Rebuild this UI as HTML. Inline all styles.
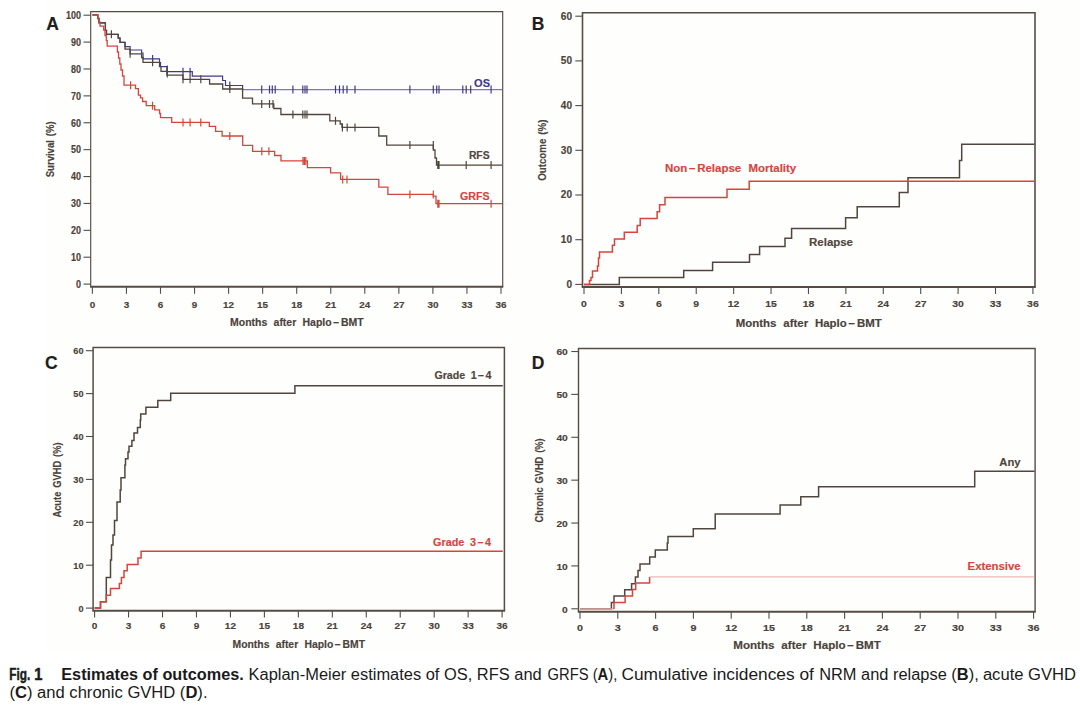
<!DOCTYPE html>
<html><head><meta charset="utf-8"><style>
html,body{margin:0;padding:0;background:#fff;width:1080px;height:705px;overflow:hidden}
svg{display:block}
text{font-family:"Liberation Sans", sans-serif}
</style></head><body>
<svg width="1080" height="705" viewBox="0 0 1080 705" font-family="Liberation Sans, sans-serif">
<rect x="0" y="0" width="1080" height="705" fill="#ffffff"/>
<rect x="44" y="0" width="1036" height="652" fill="#fefefd"/>
<path d="M90.7 286.8 V11.6 H502.7 V286.8" fill="none" stroke="#564c44" stroke-width="1.15"/>
<path d="M90.125 286.8 H503.275" stroke="#564c44" stroke-width="1.9"/>
<path d="M83.5 284.10 H90.7" stroke="#564c44" stroke-width="1.1"/>
<text x="81.0" y="287.8" font-size="10" text-anchor="end" fill="#4a423b" stroke="#4a423b" stroke-width="0.15" font-weight="bold" textLength="5.0" lengthAdjust="spacingAndGlyphs" >0</text>
<path d="M83.5 257.21 H90.7" stroke="#564c44" stroke-width="1.1"/>
<text x="81.0" y="260.9" font-size="10" text-anchor="end" fill="#4a423b" stroke="#4a423b" stroke-width="0.15" font-weight="bold" textLength="10.0" lengthAdjust="spacingAndGlyphs" >10</text>
<path d="M83.5 230.32 H90.7" stroke="#564c44" stroke-width="1.1"/>
<text x="81.0" y="234.0" font-size="10" text-anchor="end" fill="#4a423b" stroke="#4a423b" stroke-width="0.15" font-weight="bold" textLength="10.0" lengthAdjust="spacingAndGlyphs" >20</text>
<path d="M83.5 203.43 H90.7" stroke="#564c44" stroke-width="1.1"/>
<text x="81.0" y="207.1" font-size="10" text-anchor="end" fill="#4a423b" stroke="#4a423b" stroke-width="0.15" font-weight="bold" textLength="10.0" lengthAdjust="spacingAndGlyphs" >30</text>
<path d="M83.5 176.54 H90.7" stroke="#564c44" stroke-width="1.1"/>
<text x="81.0" y="180.2" font-size="10" text-anchor="end" fill="#4a423b" stroke="#4a423b" stroke-width="0.15" font-weight="bold" textLength="10.0" lengthAdjust="spacingAndGlyphs" >40</text>
<path d="M83.5 149.65 H90.7" stroke="#564c44" stroke-width="1.1"/>
<text x="81.0" y="153.4" font-size="10" text-anchor="end" fill="#4a423b" stroke="#4a423b" stroke-width="0.15" font-weight="bold" textLength="10.0" lengthAdjust="spacingAndGlyphs" >50</text>
<path d="M83.5 122.76 H90.7" stroke="#564c44" stroke-width="1.1"/>
<text x="81.0" y="126.5" font-size="10" text-anchor="end" fill="#4a423b" stroke="#4a423b" stroke-width="0.15" font-weight="bold" textLength="10.0" lengthAdjust="spacingAndGlyphs" >60</text>
<path d="M83.5 95.87 H90.7" stroke="#564c44" stroke-width="1.1"/>
<text x="81.0" y="99.6" font-size="10" text-anchor="end" fill="#4a423b" stroke="#4a423b" stroke-width="0.15" font-weight="bold" textLength="10.0" lengthAdjust="spacingAndGlyphs" >70</text>
<path d="M83.5 68.98 H90.7" stroke="#564c44" stroke-width="1.1"/>
<text x="81.0" y="72.7" font-size="10" text-anchor="end" fill="#4a423b" stroke="#4a423b" stroke-width="0.15" font-weight="bold" textLength="10.0" lengthAdjust="spacingAndGlyphs" >80</text>
<path d="M83.5 42.09 H90.7" stroke="#564c44" stroke-width="1.1"/>
<text x="81.0" y="45.8" font-size="10" text-anchor="end" fill="#4a423b" stroke="#4a423b" stroke-width="0.15" font-weight="bold" textLength="10.0" lengthAdjust="spacingAndGlyphs" >90</text>
<path d="M83.5 15.20 H90.7" stroke="#564c44" stroke-width="1.1"/>
<text x="81.0" y="18.9" font-size="10" text-anchor="end" fill="#4a423b" stroke="#4a423b" stroke-width="0.15" font-weight="bold" textLength="15.0" lengthAdjust="spacingAndGlyphs" >100</text>
<path d="M92.40 286.8 V293.8" stroke="#564c44" stroke-width="1.1"/>
<text x="92.4" y="307.6" font-size="9" text-anchor="middle" fill="#4a423b" stroke="#4a423b" stroke-width="0.15" font-weight="bold" textLength="5.5" lengthAdjust="spacingAndGlyphs" >0</text>
<path d="M126.45 286.8 V293.8" stroke="#564c44" stroke-width="1.1"/>
<text x="126.5" y="307.6" font-size="9" text-anchor="middle" fill="#4a423b" stroke="#4a423b" stroke-width="0.15" font-weight="bold" textLength="5.5" lengthAdjust="spacingAndGlyphs" >3</text>
<path d="M160.50 286.8 V293.8" stroke="#564c44" stroke-width="1.1"/>
<text x="160.5" y="307.6" font-size="9" text-anchor="middle" fill="#4a423b" stroke="#4a423b" stroke-width="0.15" font-weight="bold" textLength="5.5" lengthAdjust="spacingAndGlyphs" >6</text>
<path d="M194.55 286.8 V293.8" stroke="#564c44" stroke-width="1.1"/>
<text x="194.6" y="307.6" font-size="9" text-anchor="middle" fill="#4a423b" stroke="#4a423b" stroke-width="0.15" font-weight="bold" textLength="5.5" lengthAdjust="spacingAndGlyphs" >9</text>
<path d="M228.60 286.8 V293.8" stroke="#564c44" stroke-width="1.1"/>
<text x="228.6" y="307.6" font-size="9" text-anchor="middle" fill="#4a423b" stroke="#4a423b" stroke-width="0.15" font-weight="bold" textLength="11.0" lengthAdjust="spacingAndGlyphs" >12</text>
<path d="M262.65 286.8 V293.8" stroke="#564c44" stroke-width="1.1"/>
<text x="262.6" y="307.6" font-size="9" text-anchor="middle" fill="#4a423b" stroke="#4a423b" stroke-width="0.15" font-weight="bold" textLength="11.0" lengthAdjust="spacingAndGlyphs" >15</text>
<path d="M296.70 286.8 V293.8" stroke="#564c44" stroke-width="1.1"/>
<text x="296.7" y="307.6" font-size="9" text-anchor="middle" fill="#4a423b" stroke="#4a423b" stroke-width="0.15" font-weight="bold" textLength="11.0" lengthAdjust="spacingAndGlyphs" >18</text>
<path d="M330.75 286.8 V293.8" stroke="#564c44" stroke-width="1.1"/>
<text x="330.8" y="307.6" font-size="9" text-anchor="middle" fill="#4a423b" stroke="#4a423b" stroke-width="0.15" font-weight="bold" textLength="11.0" lengthAdjust="spacingAndGlyphs" >21</text>
<path d="M364.80 286.8 V293.8" stroke="#564c44" stroke-width="1.1"/>
<text x="364.8" y="307.6" font-size="9" text-anchor="middle" fill="#4a423b" stroke="#4a423b" stroke-width="0.15" font-weight="bold" textLength="11.0" lengthAdjust="spacingAndGlyphs" >24</text>
<path d="M398.85 286.8 V293.8" stroke="#564c44" stroke-width="1.1"/>
<text x="398.9" y="307.6" font-size="9" text-anchor="middle" fill="#4a423b" stroke="#4a423b" stroke-width="0.15" font-weight="bold" textLength="11.0" lengthAdjust="spacingAndGlyphs" >27</text>
<path d="M432.90 286.8 V293.8" stroke="#564c44" stroke-width="1.1"/>
<text x="432.9" y="307.6" font-size="9" text-anchor="middle" fill="#4a423b" stroke="#4a423b" stroke-width="0.15" font-weight="bold" textLength="11.0" lengthAdjust="spacingAndGlyphs" >30</text>
<path d="M466.95 286.8 V293.8" stroke="#564c44" stroke-width="1.1"/>
<text x="467.0" y="307.6" font-size="9" text-anchor="middle" fill="#4a423b" stroke="#4a423b" stroke-width="0.15" font-weight="bold" textLength="11.0" lengthAdjust="spacingAndGlyphs" >33</text>
<path d="M501.00 286.8 V293.8" stroke="#564c44" stroke-width="1.1"/>
<text x="501.0" y="307.6" font-size="9" text-anchor="middle" fill="#4a423b" stroke="#4a423b" stroke-width="0.15" font-weight="bold" textLength="11.0" lengthAdjust="spacingAndGlyphs" >36</text>
<text x="52.5" y="29.5" font-size="17.5" text-anchor="middle" fill="#1e1e1e" stroke="#1e1e1e" stroke-width="0.15" font-weight="bold" >A</text>
<text x="0.0" y="0.0" font-size="11" text-anchor="middle" fill="#4a423b" stroke="#4a423b" stroke-width="0.15" font-weight="bold" textLength="56" lengthAdjust="spacingAndGlyphs" word-spacing="1.5" transform="translate(53.9 149.3) rotate(-90)">Survival (%)</text>
<text x="230.0" y="325.7" font-size="10" text-anchor="start" fill="#4a423b" stroke="#4a423b" stroke-width="0.15" font-weight="bold" textLength="133.7" lengthAdjust="spacingAndGlyphs" word-spacing="3.2" >Months after Haplo<tspan dx="1.5">−</tspan><tspan dx="1.5">BMT</tspan></text>
<path d="M92.4 14.9 H97.8 V18.5 H99 V22.8 H105.4 V30.4 H106.5 V34.3 H118.2 V38.1 H120 V42.3 H125 V46.6 H130.1 V50 H141.6 V53 H143 V58.9 H159.5 V62.5 H160.5 V66.7 H166.9 V71.7 H192.3 V76.1 H222.6 V80.5 H225.5 V85.5 H242.6 V89.6 H243" fill="none" stroke="#3f3a8a" stroke-width="1.2" stroke-linejoin="miter" stroke-linecap="butt" />
<path d="M242.6 89.7 H502.2" fill="none" stroke="#7f78b3" stroke-width="1.3" stroke-linejoin="miter" stroke-linecap="butt" />
<path d="M92.4 14.9 H97.8 V18.5 H99 V22.8 H105.4 V30.4 H106.5 V34.3 H118.2 V38.1 H120 V42.3 H125 V49.1 H130.1 V53.8 H141.6 V57.5 H143 V62.3 H159.5 V66.7 H161 V71.3 H166.9 V75.2 H183 V79.3 H209.6 V84 H222.7 V89 H242.6 V98.2 H252.5 V103.9 H273.8 V108.5 H280.9 V114.5 H329.8 V120.8 H340.2 V124 H342 V127.4 H378.8 V136 H386.7 V145.1 H433.3 V150 H435 V158 H436.5 V165.1 H502" fill="none" stroke="#51463e" stroke-width="1.3" stroke-linejoin="miter" stroke-linecap="butt" />
<path d="M92.4 14.9 H97.8 V18.5 H99.2 V22 H100 V26.2 H103.7 V30 H105 V35.5 H106.3 V40.6 H107.2 V46.2 H117.4 V52 H118.5 V58 H119.8 V64 H121 V70 H122.5 V76 H124 V85.2 H135.5 V88.7 H138.4 V95.1 H140.5 V97.9 H142.6 V101.5 H146.2 V105.7 H154.7 V109.9 H159.6 V113.5 H160.5 V117.7 H171.7 V122.4 H209.3 V126.4 H215.6 V131.4 H222.1 V136 H242.7 V145.3 H252.6 V151.3 H274.6 V155.5 H281 V160.9 H307.4 V167.6 H330.6 V172.8 H340.6 V179.4 H378.8 V187.1 H387.9 V194.4 H433.3 V196.2 H436 V203.7 H502" fill="none" stroke="#d4463d" stroke-width="1.3" stroke-linejoin="miter" stroke-linecap="butt" />
<path d="M152.6 54.9 V62.9" stroke="#3f3a8a" stroke-width="1.2"/>
<path d="M167.3 65.5 V73.5" stroke="#3f3a8a" stroke-width="1.2"/>
<path d="M167.3 69.5 V77.5" stroke="#51463e" stroke-width="1.2"/>
<path d="M183.0 67.7 V75.7 M190.1 67.7 V75.7" stroke="#3f3a8a" stroke-width="1.2"/>
<path d="M229.8 81.5 V89.5" stroke="#3f3a8a" stroke-width="1.2"/>
<path d="M261.7 85.6 V93.6 M269.5 85.6 V93.6 M272.3 85.6 V93.6 M275.2 85.6 V93.6 M292.9 85.6 V93.6 M302.8 85.6 V93.6 M305.0 85.6 V93.6 M307.0 85.6 V93.6 M335.5 85.6 V93.6 M339.5 85.6 V93.6 M343.2 85.6 V93.6 M347.0 85.6 V93.6 M355.0 85.6 V93.6 M409.9 85.6 V93.6 M433.3 85.6 V93.6 M436.7 85.6 V93.6 M439.0 85.6 V93.6 M462.8 85.6 V93.6 M466.2 85.6 V93.6 M470.7 85.6 V93.6 M491.1 85.6 V93.6" stroke="#3f3a8a" stroke-width="1.2"/>
<path d="M111.4 30.3 V38.3" stroke="#51463e" stroke-width="1.2"/>
<path d="M130.1 49.8 V57.8" stroke="#51463e" stroke-width="1.2"/>
<path d="M152.6 58.3 V66.3" stroke="#51463e" stroke-width="1.2"/>
<path d="M183.0 75.3 V83.3 M190.1 75.3 V83.3 M200.8 75.3 V83.3" stroke="#51463e" stroke-width="1.2"/>
<path d="M229.8 85.0 V93.0" stroke="#51463e" stroke-width="1.2"/>
<path d="M261.7 99.9 V107.9 M269.5 99.9 V107.9 M273.0 99.9 V107.9" stroke="#51463e" stroke-width="1.2"/>
<path d="M292.9 110.5 V118.5 M302.8 110.5 V118.5 M305.0 110.5 V118.5 M307.0 110.5 V118.5" stroke="#51463e" stroke-width="1.2"/>
<path d="M335.5 116.8 V124.8" stroke="#51463e" stroke-width="1.2"/>
<path d="M342.4 123.4 V131.4 M347.2 123.4 V131.4 M355.0 123.4 V131.4" stroke="#51463e" stroke-width="1.2"/>
<path d="M409.9 141.1 V149.1 M433.3 141.1 V149.1" stroke="#51463e" stroke-width="1.2"/>
<path d="M437.8 161.1 V169.1 M439.0 161.1 V169.1" stroke="#51463e" stroke-width="1.2"/>
<path d="M466.2 161.1 V169.1 M491.1 161.1 V169.1" stroke="#51463e" stroke-width="1.2"/>
<path d="M130.6 81.2 V89.2" stroke="#d4463d" stroke-width="1.2"/>
<path d="M152.5 101.7 V109.7" stroke="#d4463d" stroke-width="1.2"/>
<path d="M183.0 118.4 V126.4 M190.1 118.4 V126.4 M200.8 118.4 V126.4" stroke="#d4463d" stroke-width="1.2"/>
<path d="M229.8 132.0 V140.0" stroke="#d4463d" stroke-width="1.2"/>
<path d="M261.8 147.3 V155.3 M268.9 147.3 V155.3" stroke="#d4463d" stroke-width="1.2"/>
<path d="M303.0 156.9 V164.9 M304.4 156.9 V164.9 M305.8 156.9 V164.9" stroke="#d4463d" stroke-width="1.2"/>
<path d="M342.7 175.4 V183.4 M347.0 175.4 V183.4" stroke="#d4463d" stroke-width="1.2"/>
<path d="M409.9 190.4 V198.4 M433.3 190.4 V198.4" stroke="#d4463d" stroke-width="1.2"/>
<path d="M437.8 199.7 V207.7 M439.0 199.7 V207.7 M491.1 199.7 V207.7" stroke="#d4463d" stroke-width="1.2"/>
<text x="474.1" y="87.2" font-size="10" text-anchor="start" fill="#3f3a8a" stroke="#3f3a8a" stroke-width="0.15" font-weight="bold" textLength="15.9" lengthAdjust="spacingAndGlyphs" >OS</text>
<text x="468.9" y="159.2" font-size="10" text-anchor="start" fill="#51463e" stroke="#51463e" stroke-width="0.15" font-weight="bold" textLength="20.7" lengthAdjust="spacingAndGlyphs" >RFS</text>
<text x="460.0" y="200.0" font-size="10" text-anchor="start" fill="#d4463d" stroke="#d4463d" stroke-width="0.15" font-weight="bold" textLength="29.6" lengthAdjust="spacingAndGlyphs" >GRFS</text>
<path d="M582.5 287 V12.8 H1035 V287" fill="none" stroke="#564c44" stroke-width="1.6"/>
<path d="M581.7 287 H1035.8" stroke="#564c44" stroke-width="2.0"/>
<path d="M575.3 284.40 H582.5" stroke="#564c44" stroke-width="1.1"/>
<text x="572.0" y="287.8" font-size="10" text-anchor="end" fill="#4a423b" stroke="#4a423b" stroke-width="0.15" font-weight="bold" textLength="5.6" lengthAdjust="spacingAndGlyphs" >0</text>
<path d="M575.3 239.70 H582.5" stroke="#564c44" stroke-width="1.1"/>
<text x="572.0" y="243.1" font-size="10" text-anchor="end" fill="#4a423b" stroke="#4a423b" stroke-width="0.15" font-weight="bold" textLength="11.2" lengthAdjust="spacingAndGlyphs" >10</text>
<path d="M575.3 195.00 H582.5" stroke="#564c44" stroke-width="1.1"/>
<text x="572.0" y="198.4" font-size="10" text-anchor="end" fill="#4a423b" stroke="#4a423b" stroke-width="0.15" font-weight="bold" textLength="11.2" lengthAdjust="spacingAndGlyphs" >20</text>
<path d="M575.3 150.30 H582.5" stroke="#564c44" stroke-width="1.1"/>
<text x="572.0" y="153.7" font-size="10" text-anchor="end" fill="#4a423b" stroke="#4a423b" stroke-width="0.15" font-weight="bold" textLength="11.2" lengthAdjust="spacingAndGlyphs" >30</text>
<path d="M575.3 105.60 H582.5" stroke="#564c44" stroke-width="1.1"/>
<text x="572.0" y="109.0" font-size="10" text-anchor="end" fill="#4a423b" stroke="#4a423b" stroke-width="0.15" font-weight="bold" textLength="11.2" lengthAdjust="spacingAndGlyphs" >40</text>
<path d="M575.3 60.90 H582.5" stroke="#564c44" stroke-width="1.1"/>
<text x="572.0" y="64.3" font-size="10" text-anchor="end" fill="#4a423b" stroke="#4a423b" stroke-width="0.15" font-weight="bold" textLength="11.2" lengthAdjust="spacingAndGlyphs" >50</text>
<path d="M575.3 16.20 H582.5" stroke="#564c44" stroke-width="1.1"/>
<text x="572.0" y="19.6" font-size="10" text-anchor="end" fill="#4a423b" stroke="#4a423b" stroke-width="0.15" font-weight="bold" textLength="11.2" lengthAdjust="spacingAndGlyphs" >60</text>
<path d="M584.00 287 V294" stroke="#564c44" stroke-width="1.1"/>
<text x="584.0" y="307.2" font-size="9" text-anchor="middle" fill="#4a423b" stroke="#4a423b" stroke-width="0.15" font-weight="bold" textLength="5.8" lengthAdjust="spacingAndGlyphs" >0</text>
<path d="M621.41 287 V294" stroke="#564c44" stroke-width="1.1"/>
<text x="621.4" y="307.2" font-size="9" text-anchor="middle" fill="#4a423b" stroke="#4a423b" stroke-width="0.15" font-weight="bold" textLength="5.8" lengthAdjust="spacingAndGlyphs" >3</text>
<path d="M658.82 287 V294" stroke="#564c44" stroke-width="1.1"/>
<text x="658.8" y="307.2" font-size="9" text-anchor="middle" fill="#4a423b" stroke="#4a423b" stroke-width="0.15" font-weight="bold" textLength="5.8" lengthAdjust="spacingAndGlyphs" >6</text>
<path d="M696.23 287 V294" stroke="#564c44" stroke-width="1.1"/>
<text x="696.2" y="307.2" font-size="9" text-anchor="middle" fill="#4a423b" stroke="#4a423b" stroke-width="0.15" font-weight="bold" textLength="5.8" lengthAdjust="spacingAndGlyphs" >9</text>
<path d="M733.64 287 V294" stroke="#564c44" stroke-width="1.1"/>
<text x="733.6" y="307.2" font-size="9" text-anchor="middle" fill="#4a423b" stroke="#4a423b" stroke-width="0.15" font-weight="bold" textLength="11.6" lengthAdjust="spacingAndGlyphs" >12</text>
<path d="M771.05 287 V294" stroke="#564c44" stroke-width="1.1"/>
<text x="771.0" y="307.2" font-size="9" text-anchor="middle" fill="#4a423b" stroke="#4a423b" stroke-width="0.15" font-weight="bold" textLength="11.6" lengthAdjust="spacingAndGlyphs" >15</text>
<path d="M808.46 287 V294" stroke="#564c44" stroke-width="1.1"/>
<text x="808.5" y="307.2" font-size="9" text-anchor="middle" fill="#4a423b" stroke="#4a423b" stroke-width="0.15" font-weight="bold" textLength="11.6" lengthAdjust="spacingAndGlyphs" >18</text>
<path d="M845.87 287 V294" stroke="#564c44" stroke-width="1.1"/>
<text x="845.9" y="307.2" font-size="9" text-anchor="middle" fill="#4a423b" stroke="#4a423b" stroke-width="0.15" font-weight="bold" textLength="11.6" lengthAdjust="spacingAndGlyphs" >21</text>
<path d="M883.28 287 V294" stroke="#564c44" stroke-width="1.1"/>
<text x="883.3" y="307.2" font-size="9" text-anchor="middle" fill="#4a423b" stroke="#4a423b" stroke-width="0.15" font-weight="bold" textLength="11.6" lengthAdjust="spacingAndGlyphs" >24</text>
<path d="M920.69 287 V294" stroke="#564c44" stroke-width="1.1"/>
<text x="920.7" y="307.2" font-size="9" text-anchor="middle" fill="#4a423b" stroke="#4a423b" stroke-width="0.15" font-weight="bold" textLength="11.6" lengthAdjust="spacingAndGlyphs" >27</text>
<path d="M958.10 287 V294" stroke="#564c44" stroke-width="1.1"/>
<text x="958.1" y="307.2" font-size="9" text-anchor="middle" fill="#4a423b" stroke="#4a423b" stroke-width="0.15" font-weight="bold" textLength="11.6" lengthAdjust="spacingAndGlyphs" >30</text>
<path d="M995.51 287 V294" stroke="#564c44" stroke-width="1.1"/>
<text x="995.5" y="307.2" font-size="9" text-anchor="middle" fill="#4a423b" stroke="#4a423b" stroke-width="0.15" font-weight="bold" textLength="11.6" lengthAdjust="spacingAndGlyphs" >33</text>
<path d="M1032.92 287 V294" stroke="#564c44" stroke-width="1.1"/>
<text x="1032.9" y="307.2" font-size="9" text-anchor="middle" fill="#4a423b" stroke="#4a423b" stroke-width="0.15" font-weight="bold" textLength="11.6" lengthAdjust="spacingAndGlyphs" >36</text>
<text x="538.0" y="29.8" font-size="17.5" text-anchor="middle" fill="#1e1e1e" stroke="#1e1e1e" stroke-width="0.15" font-weight="bold" >B</text>
<text x="0.0" y="0.0" font-size="10.8" text-anchor="middle" fill="#4a423b" stroke="#4a423b" stroke-width="0.15" font-weight="bold" textLength="61.3" lengthAdjust="spacingAndGlyphs" word-spacing="1.5" transform="translate(546.0 150.2) rotate(-90)">Outcome (%)</text>
<text x="735.8" y="326.6" font-size="10" text-anchor="start" fill="#4a423b" stroke="#4a423b" stroke-width="0.15" font-weight="bold" textLength="145.9" lengthAdjust="spacingAndGlyphs" word-spacing="3.2" >Months after Haplo<tspan dx="1.5">−</tspan><tspan dx="1.5">BMT</tspan></text>
<path d="M584 284.4 H619.3 V277.6 H683.7 V270.4 H712.6 V262.2 H749.5 V254.5 H759.6 V246.6 H785 V238.2 H791.6 V228.6 H845.6 V217.7 H857.2 V206.7 H899.3 V192.4 H908 V177.7 H959.5 V160.6 H961.7 V144.3 H1034.5" fill="none" stroke="#51463e" stroke-width="1.5" stroke-linejoin="miter" stroke-linecap="butt" />
<path d="M584 284.4 H589.5 V280.5 H591 V277.5 H592.5 V271.1 H597.5 V266 H598.5 V258 H599.5 V252 H612.4 V245.3 H614.5 V239.1 H624.3 V232.2 H637.2 V225.4 H640.2 V218.5 H657.1 V211.7 H659.6 V204.7 H665 V197.5 H727 V189.2 H749.2 V181.3 H1034.5" fill="none" stroke="#d4463d" stroke-width="1.5" stroke-linejoin="miter" stroke-linecap="butt" />
<text x="665.0" y="171.6" font-size="10" text-anchor="start" fill="#d4463d" stroke="#d4463d" stroke-width="0.15" font-weight="bold" textLength="131.2" lengthAdjust="spacingAndGlyphs" word-spacing="3.6" >Non<tspan dx="1.4">−</tspan><tspan dx="1.4">Relapse Mortality</tspan></text>
<text x="809.1" y="245.8" font-size="10" text-anchor="start" fill="#51463e" stroke="#51463e" stroke-width="0.15" font-weight="bold" textLength="43.9" lengthAdjust="spacingAndGlyphs" >Relapse</text>
<path d="M93.1 610.7 V347.5 H504.4 V610.7" fill="none" stroke="#564c44" stroke-width="1.5"/>
<path d="M92.35 610.7 H505.15" stroke="#564c44" stroke-width="2.0"/>
<path d="M85.89999999999999 608.10 H93.1" stroke="#564c44" stroke-width="1.1"/>
<text x="83.5" y="611.5" font-size="9.2" text-anchor="end" fill="#4a423b" stroke="#4a423b" stroke-width="0.15" font-weight="bold" textLength="5.1" lengthAdjust="spacingAndGlyphs" >0</text>
<path d="M85.89999999999999 565.20 H93.1" stroke="#564c44" stroke-width="1.1"/>
<text x="83.5" y="568.6" font-size="9.2" text-anchor="end" fill="#4a423b" stroke="#4a423b" stroke-width="0.15" font-weight="bold" textLength="10.2" lengthAdjust="spacingAndGlyphs" >10</text>
<path d="M85.89999999999999 522.30 H93.1" stroke="#564c44" stroke-width="1.1"/>
<text x="83.5" y="525.7" font-size="9.2" text-anchor="end" fill="#4a423b" stroke="#4a423b" stroke-width="0.15" font-weight="bold" textLength="10.2" lengthAdjust="spacingAndGlyphs" >20</text>
<path d="M85.89999999999999 479.40 H93.1" stroke="#564c44" stroke-width="1.1"/>
<text x="83.5" y="482.8" font-size="9.2" text-anchor="end" fill="#4a423b" stroke="#4a423b" stroke-width="0.15" font-weight="bold" textLength="10.2" lengthAdjust="spacingAndGlyphs" >30</text>
<path d="M85.89999999999999 436.50 H93.1" stroke="#564c44" stroke-width="1.1"/>
<text x="83.5" y="439.9" font-size="9.2" text-anchor="end" fill="#4a423b" stroke="#4a423b" stroke-width="0.15" font-weight="bold" textLength="10.2" lengthAdjust="spacingAndGlyphs" >40</text>
<path d="M85.89999999999999 393.60 H93.1" stroke="#564c44" stroke-width="1.1"/>
<text x="83.5" y="397.0" font-size="9.2" text-anchor="end" fill="#4a423b" stroke="#4a423b" stroke-width="0.15" font-weight="bold" textLength="10.2" lengthAdjust="spacingAndGlyphs" >50</text>
<path d="M85.89999999999999 350.70 H93.1" stroke="#564c44" stroke-width="1.1"/>
<text x="83.5" y="354.1" font-size="9.2" text-anchor="end" fill="#4a423b" stroke="#4a423b" stroke-width="0.15" font-weight="bold" textLength="10.2" lengthAdjust="spacingAndGlyphs" >60</text>
<path d="M94.60 610.7 V617.4000000000001" stroke="#564c44" stroke-width="1.1"/>
<text x="94.6" y="629.4" font-size="9.4" text-anchor="middle" fill="#4a423b" stroke="#4a423b" stroke-width="0.15" font-weight="bold" textLength="5.6" lengthAdjust="spacingAndGlyphs" >0</text>
<path d="M128.56 610.7 V617.4000000000001" stroke="#564c44" stroke-width="1.1"/>
<text x="128.6" y="629.4" font-size="9.4" text-anchor="middle" fill="#4a423b" stroke="#4a423b" stroke-width="0.15" font-weight="bold" textLength="5.6" lengthAdjust="spacingAndGlyphs" >3</text>
<path d="M162.52 610.7 V617.4000000000001" stroke="#564c44" stroke-width="1.1"/>
<text x="162.5" y="629.4" font-size="9.4" text-anchor="middle" fill="#4a423b" stroke="#4a423b" stroke-width="0.15" font-weight="bold" textLength="5.6" lengthAdjust="spacingAndGlyphs" >6</text>
<path d="M196.48 610.7 V617.4000000000001" stroke="#564c44" stroke-width="1.1"/>
<text x="196.5" y="629.4" font-size="9.4" text-anchor="middle" fill="#4a423b" stroke="#4a423b" stroke-width="0.15" font-weight="bold" textLength="5.6" lengthAdjust="spacingAndGlyphs" >9</text>
<path d="M230.44 610.7 V617.4000000000001" stroke="#564c44" stroke-width="1.1"/>
<text x="230.4" y="629.4" font-size="9.4" text-anchor="middle" fill="#4a423b" stroke="#4a423b" stroke-width="0.15" font-weight="bold" textLength="11.2" lengthAdjust="spacingAndGlyphs" >12</text>
<path d="M264.40 610.7 V617.4000000000001" stroke="#564c44" stroke-width="1.1"/>
<text x="264.4" y="629.4" font-size="9.4" text-anchor="middle" fill="#4a423b" stroke="#4a423b" stroke-width="0.15" font-weight="bold" textLength="11.2" lengthAdjust="spacingAndGlyphs" >15</text>
<path d="M298.36 610.7 V617.4000000000001" stroke="#564c44" stroke-width="1.1"/>
<text x="298.4" y="629.4" font-size="9.4" text-anchor="middle" fill="#4a423b" stroke="#4a423b" stroke-width="0.15" font-weight="bold" textLength="11.2" lengthAdjust="spacingAndGlyphs" >18</text>
<path d="M332.32 610.7 V617.4000000000001" stroke="#564c44" stroke-width="1.1"/>
<text x="332.3" y="629.4" font-size="9.4" text-anchor="middle" fill="#4a423b" stroke="#4a423b" stroke-width="0.15" font-weight="bold" textLength="11.2" lengthAdjust="spacingAndGlyphs" >21</text>
<path d="M366.28 610.7 V617.4000000000001" stroke="#564c44" stroke-width="1.1"/>
<text x="366.3" y="629.4" font-size="9.4" text-anchor="middle" fill="#4a423b" stroke="#4a423b" stroke-width="0.15" font-weight="bold" textLength="11.2" lengthAdjust="spacingAndGlyphs" >24</text>
<path d="M400.24 610.7 V617.4000000000001" stroke="#564c44" stroke-width="1.1"/>
<text x="400.2" y="629.4" font-size="9.4" text-anchor="middle" fill="#4a423b" stroke="#4a423b" stroke-width="0.15" font-weight="bold" textLength="11.2" lengthAdjust="spacingAndGlyphs" >27</text>
<path d="M434.20 610.7 V617.4000000000001" stroke="#564c44" stroke-width="1.1"/>
<text x="434.2" y="629.4" font-size="9.4" text-anchor="middle" fill="#4a423b" stroke="#4a423b" stroke-width="0.15" font-weight="bold" textLength="11.2" lengthAdjust="spacingAndGlyphs" >30</text>
<path d="M468.16 610.7 V617.4000000000001" stroke="#564c44" stroke-width="1.1"/>
<text x="468.2" y="629.4" font-size="9.4" text-anchor="middle" fill="#4a423b" stroke="#4a423b" stroke-width="0.15" font-weight="bold" textLength="11.2" lengthAdjust="spacingAndGlyphs" >33</text>
<path d="M502.12 610.7 V617.4000000000001" stroke="#564c44" stroke-width="1.1"/>
<text x="502.1" y="629.4" font-size="9.4" text-anchor="middle" fill="#4a423b" stroke="#4a423b" stroke-width="0.15" font-weight="bold" textLength="11.2" lengthAdjust="spacingAndGlyphs" >36</text>
<text x="51.3" y="368.8" font-size="17.5" text-anchor="middle" fill="#1e1e1e" stroke="#1e1e1e" stroke-width="0.15" font-weight="bold" >C</text>
<text x="0.0" y="0.0" font-size="10" text-anchor="middle" fill="#4a423b" stroke="#4a423b" stroke-width="0.15" font-weight="bold" textLength="75" lengthAdjust="spacingAndGlyphs" word-spacing="1.5" transform="translate(61.0 480) rotate(-90)">Acute GVHD (%)</text>
<text x="232.5" y="648.3" font-size="10" text-anchor="start" fill="#4a423b" stroke="#4a423b" stroke-width="0.15" font-weight="bold" textLength="132.5" lengthAdjust="spacingAndGlyphs" word-spacing="3.2" >Months after Haplo<tspan dx="1.5">−</tspan><tspan dx="1.5">BMT</tspan></text>
<path d="M94.6 608.1 H100.5 V601.7 H106.3 V577.4 H110.5 V560 H111.5 V545 H113 V535 H114.5 V520.5 H117 V502.1 H120.2 V490 H121 V477.7 H124.9 V465 H125.5 V458.8 H128 V452 H129 V446.3 H131.9 V440.5 H134 V433.1 H137.5 V427.4 H140.3 V420 H140.7 V414.1 H145.9 V407.2 H157.8 V400.6 H170.7 V393.2 H294.9 V385.7 H502.8" fill="none" stroke="#51463e" stroke-width="1.5" stroke-linejoin="miter" stroke-linecap="butt" />
<path d="M94.6 608.1 H100.5 V601.7 H106.3 V595.2 H110.5 V588.6 H119.4 V583.4 H121.4 V577.4 H124 V570.8 H127.2 V564.5 H138 V558 H141.1 V551.3 H502.8" fill="none" stroke="#d4463d" stroke-width="1.5" stroke-linejoin="miter" stroke-linecap="butt" />
<text x="434.4" y="379.4" font-size="10" text-anchor="start" fill="#51463e" stroke="#51463e" stroke-width="0.15" font-weight="bold" textLength="57.1" lengthAdjust="spacingAndGlyphs" word-spacing="2.5" >Grade 1<tspan dx="1.2">−</tspan><tspan dx="1.2">4</tspan></text>
<text x="433.1" y="546.4" font-size="10" text-anchor="start" fill="#d4463d" stroke="#d4463d" stroke-width="0.15" font-weight="bold" textLength="58" lengthAdjust="spacingAndGlyphs" word-spacing="2.5" >Grade 3<tspan dx="1.2">−</tspan><tspan dx="1.2">4</tspan></text>
<path d="M578.5 611.8 V348.5 H1035.1 V611.8" fill="none" stroke="#564c44" stroke-width="1.4"/>
<path d="M577.8 611.8 H1035.8" stroke="#564c44" stroke-width="2.0"/>
<path d="M571.3 608.80 H578.5" stroke="#564c44" stroke-width="1.1"/>
<text x="567.8" y="612.7" font-size="9" text-anchor="end" fill="#4a423b" stroke="#4a423b" stroke-width="0.15" font-weight="bold" textLength="5.7" lengthAdjust="spacingAndGlyphs" >0</text>
<path d="M571.3 565.92 H578.5" stroke="#564c44" stroke-width="1.1"/>
<text x="567.8" y="569.8" font-size="9" text-anchor="end" fill="#4a423b" stroke="#4a423b" stroke-width="0.15" font-weight="bold" textLength="11.4" lengthAdjust="spacingAndGlyphs" >10</text>
<path d="M571.3 523.04 H578.5" stroke="#564c44" stroke-width="1.1"/>
<text x="567.8" y="526.9" font-size="9" text-anchor="end" fill="#4a423b" stroke="#4a423b" stroke-width="0.15" font-weight="bold" textLength="11.4" lengthAdjust="spacingAndGlyphs" >20</text>
<path d="M571.3 480.16 H578.5" stroke="#564c44" stroke-width="1.1"/>
<text x="567.8" y="484.1" font-size="9" text-anchor="end" fill="#4a423b" stroke="#4a423b" stroke-width="0.15" font-weight="bold" textLength="11.4" lengthAdjust="spacingAndGlyphs" >30</text>
<path d="M571.3 437.28 H578.5" stroke="#564c44" stroke-width="1.1"/>
<text x="567.8" y="441.2" font-size="9" text-anchor="end" fill="#4a423b" stroke="#4a423b" stroke-width="0.15" font-weight="bold" textLength="11.4" lengthAdjust="spacingAndGlyphs" >40</text>
<path d="M571.3 394.40 H578.5" stroke="#564c44" stroke-width="1.1"/>
<text x="567.8" y="398.3" font-size="9" text-anchor="end" fill="#4a423b" stroke="#4a423b" stroke-width="0.15" font-weight="bold" textLength="11.4" lengthAdjust="spacingAndGlyphs" >50</text>
<path d="M571.3 351.52 H578.5" stroke="#564c44" stroke-width="1.1"/>
<text x="567.8" y="355.4" font-size="9" text-anchor="end" fill="#4a423b" stroke="#4a423b" stroke-width="0.15" font-weight="bold" textLength="11.4" lengthAdjust="spacingAndGlyphs" >60</text>
<path d="M580.00 611.8 V618.8" stroke="#564c44" stroke-width="1.1"/>
<text x="580.0" y="631.4" font-size="9" text-anchor="middle" fill="#4a423b" stroke="#4a423b" stroke-width="0.15" font-weight="bold" textLength="6.0" lengthAdjust="spacingAndGlyphs" >0</text>
<path d="M617.80 611.8 V618.8" stroke="#564c44" stroke-width="1.1"/>
<text x="617.8" y="631.4" font-size="9" text-anchor="middle" fill="#4a423b" stroke="#4a423b" stroke-width="0.15" font-weight="bold" textLength="6.0" lengthAdjust="spacingAndGlyphs" >3</text>
<path d="M655.60 611.8 V618.8" stroke="#564c44" stroke-width="1.1"/>
<text x="655.6" y="631.4" font-size="9" text-anchor="middle" fill="#4a423b" stroke="#4a423b" stroke-width="0.15" font-weight="bold" textLength="6.0" lengthAdjust="spacingAndGlyphs" >6</text>
<path d="M693.40 611.8 V618.8" stroke="#564c44" stroke-width="1.1"/>
<text x="693.4" y="631.4" font-size="9" text-anchor="middle" fill="#4a423b" stroke="#4a423b" stroke-width="0.15" font-weight="bold" textLength="6.0" lengthAdjust="spacingAndGlyphs" >9</text>
<path d="M731.20 611.8 V618.8" stroke="#564c44" stroke-width="1.1"/>
<text x="731.2" y="631.4" font-size="9" text-anchor="middle" fill="#4a423b" stroke="#4a423b" stroke-width="0.15" font-weight="bold" textLength="12.0" lengthAdjust="spacingAndGlyphs" >12</text>
<path d="M769.00 611.8 V618.8" stroke="#564c44" stroke-width="1.1"/>
<text x="769.0" y="631.4" font-size="9" text-anchor="middle" fill="#4a423b" stroke="#4a423b" stroke-width="0.15" font-weight="bold" textLength="12.0" lengthAdjust="spacingAndGlyphs" >15</text>
<path d="M806.80 611.8 V618.8" stroke="#564c44" stroke-width="1.1"/>
<text x="806.8" y="631.4" font-size="9" text-anchor="middle" fill="#4a423b" stroke="#4a423b" stroke-width="0.15" font-weight="bold" textLength="12.0" lengthAdjust="spacingAndGlyphs" >18</text>
<path d="M844.60 611.8 V618.8" stroke="#564c44" stroke-width="1.1"/>
<text x="844.6" y="631.4" font-size="9" text-anchor="middle" fill="#4a423b" stroke="#4a423b" stroke-width="0.15" font-weight="bold" textLength="12.0" lengthAdjust="spacingAndGlyphs" >21</text>
<path d="M882.40 611.8 V618.8" stroke="#564c44" stroke-width="1.1"/>
<text x="882.4" y="631.4" font-size="9" text-anchor="middle" fill="#4a423b" stroke="#4a423b" stroke-width="0.15" font-weight="bold" textLength="12.0" lengthAdjust="spacingAndGlyphs" >24</text>
<path d="M920.20 611.8 V618.8" stroke="#564c44" stroke-width="1.1"/>
<text x="920.2" y="631.4" font-size="9" text-anchor="middle" fill="#4a423b" stroke="#4a423b" stroke-width="0.15" font-weight="bold" textLength="12.0" lengthAdjust="spacingAndGlyphs" >27</text>
<path d="M958.00 611.8 V618.8" stroke="#564c44" stroke-width="1.1"/>
<text x="958.0" y="631.4" font-size="9" text-anchor="middle" fill="#4a423b" stroke="#4a423b" stroke-width="0.15" font-weight="bold" textLength="12.0" lengthAdjust="spacingAndGlyphs" >30</text>
<path d="M995.80 611.8 V618.8" stroke="#564c44" stroke-width="1.1"/>
<text x="995.8" y="631.4" font-size="9" text-anchor="middle" fill="#4a423b" stroke="#4a423b" stroke-width="0.15" font-weight="bold" textLength="12.0" lengthAdjust="spacingAndGlyphs" >33</text>
<path d="M1033.60 611.8 V618.8" stroke="#564c44" stroke-width="1.1"/>
<text x="1033.6" y="631.4" font-size="9" text-anchor="middle" fill="#4a423b" stroke="#4a423b" stroke-width="0.15" font-weight="bold" textLength="12.0" lengthAdjust="spacingAndGlyphs" >36</text>
<text x="538.0" y="369.2" font-size="17.5" text-anchor="middle" fill="#1e1e1e" stroke="#1e1e1e" stroke-width="0.15" font-weight="bold" >D</text>
<text x="0.0" y="0.0" font-size="10.8" text-anchor="middle" fill="#4a423b" stroke="#4a423b" stroke-width="0.15" font-weight="bold" textLength="84" lengthAdjust="spacingAndGlyphs" word-spacing="1.5" transform="translate(542.8 480.4) rotate(-90)">Chronic GVHD (%)</text>
<text x="733.3" y="649.2" font-size="10" text-anchor="start" fill="#4a423b" stroke="#4a423b" stroke-width="0.15" font-weight="bold" textLength="147.5" lengthAdjust="spacingAndGlyphs" word-spacing="3.2" >Months after Haplo<tspan dx="1.5">−</tspan><tspan dx="1.5">BMT</tspan></text>
<path d="M580 608.8 H611.4 V602.5 H614 V596.1 H624.7 V589.7 H631.6 V583.8 H635.4 V576.9 H638 V570.5 H640 V563.9 H649.7 V557 H655.3 V549.9 H667.3 V543 H668 V536.6 H693.3 V528.8 H715.2 V514 H780.1 V505.1 H800.8 V496.7 H818.6 V486.7 H974.7 V471.2 H1034.6" fill="none" stroke="#51463e" stroke-width="1.5" stroke-linejoin="miter" stroke-linecap="butt" />
<path d="M580 608.9 H614" fill="none" stroke="#eaa9a4" stroke-width="1.1" stroke-linejoin="miter" stroke-linecap="butt" />
<path d="M614 609.1 V602.6 H625.1 V595.9 H632.5 V589.4 H635.7 V583.1 H649.6 V577" fill="none" stroke="#d4463d" stroke-width="1.5" stroke-linejoin="miter" stroke-linecap="butt" />
<path d="M649.6 576.9 H1034.6" fill="none" stroke="#e9a5a0" stroke-width="1.0" stroke-linejoin="miter" stroke-linecap="butt" />
<text x="999.3" y="466.3" font-size="10" text-anchor="start" fill="#51463e" stroke="#51463e" stroke-width="0.15" font-weight="bold" textLength="21.3" lengthAdjust="spacingAndGlyphs" >Any</text>
<text x="967.6" y="569.9" font-size="10" text-anchor="start" fill="#d4463d" stroke="#d4463d" stroke-width="0.15" font-weight="bold" textLength="53" lengthAdjust="spacingAndGlyphs" >Extensive</text>
<text x="9.3" y="679.5" font-size="16" font-weight="bold" fill="#1a1a1a" textLength="21.0" lengthAdjust="spacingAndGlyphs" stroke="#1a1a1a" stroke-width="0.45">Fig.</text>
<text x="34.2" y="679.5" font-size="16" font-weight="bold" fill="#1a1a1a" textLength="8.2" lengthAdjust="spacingAndGlyphs" stroke="#1a1a1a" stroke-width="0.45">1</text>
<text x="61.25" y="679.5" font-size="16" font-weight="bold" fill="#1a1a1a" textLength="182.5" lengthAdjust="spacingAndGlyphs">Estimates of outcomes.</text>
<text x="248.6" y="679.5" font-size="16" fill="#1a1a1a" textLength="293.1" lengthAdjust="spacingAndGlyphs">Kaplan-Meier estimates of OS, RFS and</text>
<text x="547.6" y="679.5" font-size="16" fill="#1a1a1a" textLength="69.7" lengthAdjust="spacingAndGlyphs">GRFS (<tspan font-weight="bold">A</tspan>),</text>
<text x="621.4" y="679.5" font-size="16" fill="#1a1a1a" textLength="192.5" lengthAdjust="spacingAndGlyphs">Cumulative incidences of</text>
<text x="819.2" y="679.5" font-size="16" fill="#1a1a1a" textLength="159.5" lengthAdjust="spacingAndGlyphs">NRM and relapse (<tspan font-weight="bold">B</tspan>),</text>
<text x="982.9" y="679.5" font-size="16" fill="#1a1a1a" textLength="93.1" lengthAdjust="spacingAndGlyphs">acute GVHD</text>
<text x="9.5" y="698" font-size="16" fill="#1a1a1a" textLength="198" lengthAdjust="spacingAndGlyphs">(<tspan font-weight="bold">C</tspan>) and chronic GVHD (<tspan font-weight="bold">D</tspan>).</text>
</svg>
</body></html>
